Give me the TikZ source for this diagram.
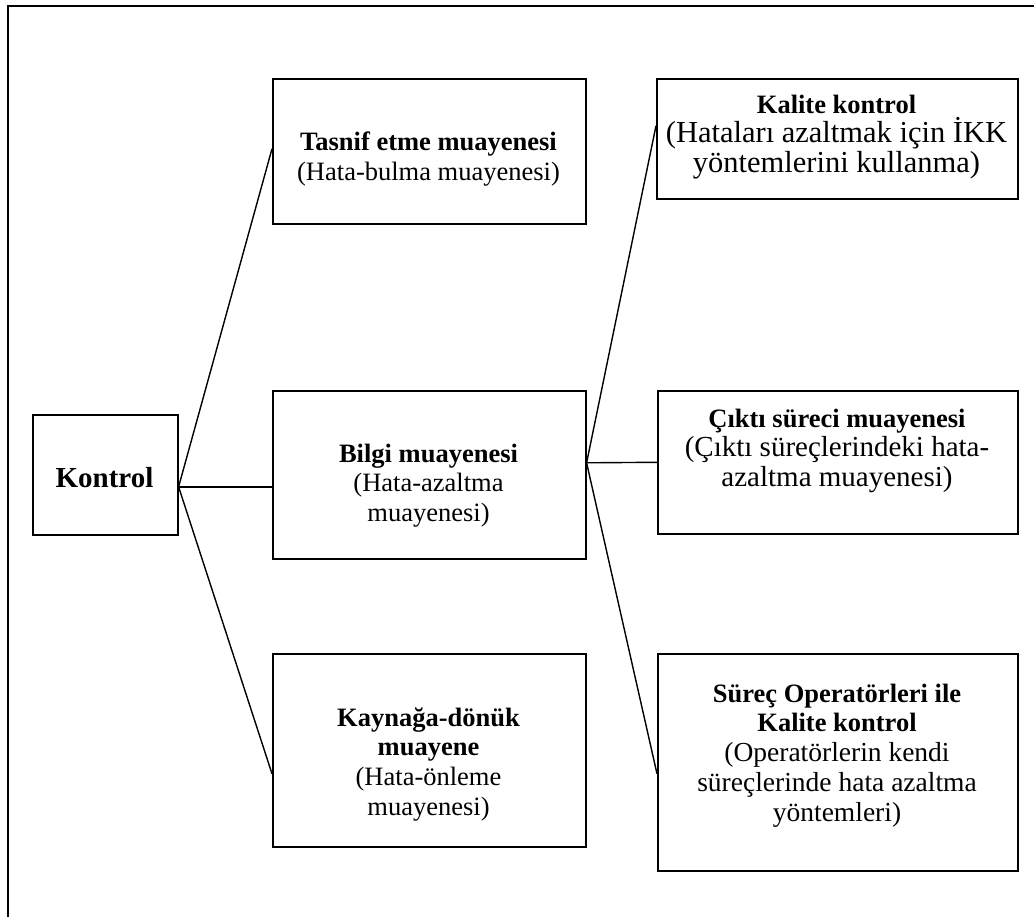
\documentclass[tikz,border=0pt]{standalone}
\usepackage{fontspec}
\setmainfont{Liberation Serif}
\newcommand\firstline{\rule{0pt}{22pt}}
% regular text size used inside a box
\newcommand\sized[2]{{\fontsize{#1}{29.7}\selectfont #2}}
\begin{document}
\begin{tikzpicture}[x=1pt, y=-1pt,
  box/.style={draw, line width=1.6pt, anchor=north west, inner sep=0pt},
  txt/.style={anchor=north, inner sep=0pt, align=center,
    font=\fontsize{26.5}{29.7}\selectfont},
  link/.style={line width=1.4pt},
  frame/.style={line width=1.8pt}]
\useasboundingbox (0,0) rectangle (1034,917);
% open outer frame
\draw[frame] (8,917) -- (8,6) -- (1034,6);

% boxes
\node[box, minimum width=145pt, minimum height=120pt] (kontrol) at (32,414) {};
\node[box, minimum width=313pt, minimum height=145pt] (tasnif) at (272,78) {};
\node[box, minimum width=313pt, minimum height=168pt] (bilgi) at (272,390) {};
\node[box, minimum width=313pt, minimum height=193pt] (kaynak) at (272,653) {};
\node[box, minimum width=361pt, minimum height=120pt] (kalite) at (656,78) {};
\node[box, minimum width=360pt, minimum height=143pt] (cikti) at (657,390) {};
\node[box, minimum width=360pt, minimum height=217pt] (surec) at (657,653) {};

% texts
\node[anchor=base, inner sep=0pt, font=\fontsize{29}{32}\selectfont\bfseries] (kontrolT) at (104.5,487) {Kontrol};
\node[txt] (tasnifT) at (428.5,128.7) {\firstline\textbf{Tasnif etme muayenesi}\\(Hata-bulma muayenesi)};
\node[txt] (bilgiT) at (428.5,440) {\firstline\textbf{Bilgi muayenesi}\\(Hata-azaltma\\muayenesi)};
\node[txt] (kaynakT) at (428.5,704) {\firstline\textbf{Kaynağa-dönük}\\\textbf{muayene}\\(Hata-önleme\\muayenesi)};
\node[txt] (kaliteT) at (836.5,91) {\firstline\textbf{Kalite kontrol}\\\sized{30.5}{(Hataları azaltmak için İKK}\\\sized{30.5}{yöntemlerini kullanma)}};
\node[txt] (ciktiT) at (837,405) {\firstline\textbf{Çıktı süreci muayenesi}\\\sized{29}{(Çıktı süreçlerindeki hata-}\\\sized{29}{azaltma muayenesi)}};
\node[txt] (surecT) at (837,680) {\firstline\textbf{Süreç Operatörleri ile}\\\textbf{Kalite kontrol}\\\sized{27.5}{(Operatörlerin kendi}\\\sized{27.5}{süreçlerinde hata azaltma}\\\sized{27.5}{yöntemleri)}};

% connectors
\coordinate (kout) at ([yshift=-12pt]kontrol.east);
\coordinate (bout) at ([yshift=12pt]bilgi.east);
\draw[link] (kout) -- ([yshift=2.5pt]tasnif.west);
\draw[link] (kout) -- ([yshift=-12pt]bilgi.west);
\draw[link] (kout) -- ([yshift=-23.5pt]kaynak.west);
\draw[link] (bout) -- ([yshift=13pt]kalite.west);
\draw[link] (bout) -- (cikti.west);
\draw[link] (bout) -- ([yshift=-11.5pt]surec.west);
\end{tikzpicture}
\end{document}
